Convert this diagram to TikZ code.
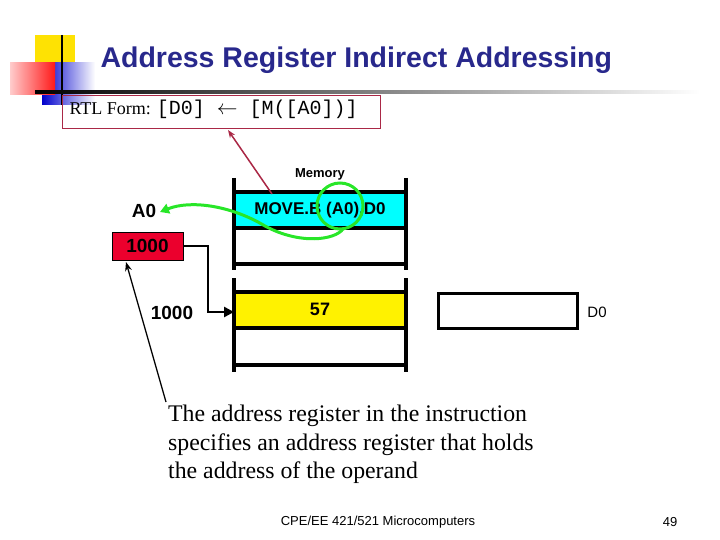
\documentclass[tikz,border=0pt]{standalone}
\usepackage{fontspec}
\setmainfont{Liberation Serif}
\setsansfont{Liberation Sans}
\setmonofont{Liberation Mono}
\usetikzlibrary{arrows.meta,shadings}
\definecolor{titleblue}{RGB}{40,40,140}
\definecolor{rtlred}{RGB}{170,40,70}
\definecolor{cyanc}{RGB}{0,255,255}
\definecolor{redc}{RGB}{235,0,45}
\definecolor{greenc}{RGB}{40,230,40}
\tikzset{memline/.style={line width=3.6pt}, lbl/.style={font=\fontsize{17}{20}\sffamily\bfseries}}
\begin{document}
\begin{tikzpicture}[x=1pt,y=-1pt]
\useasboundingbox (0,0) rectangle (720,540);
% logo
\fill[yellow!85!orange] (35,35) rectangle (75,75);
\shade[left color=blue!80!black, right color=white] (42,63) rectangle (95,105);
\shade[left color=red!20, right color=red!90] (10,63) rectangle (55,95);
\draw[line width=2pt] (62,35) -- (62,105);
\shade[left color=black, right color=white] (35,90.5) rectangle (700,94);
\node[text=titleblue, font=\fontsize{28.5}{34}\sffamily\bfseries, anchor=west] (title) at (97,60) {Address Register Indirect Addressing};
% RTL
\node[draw=rtlred, minimum width=318, minimum height=33, anchor=north west, inner sep=0] (rtl) at (62,95) {};
\node[anchor=west, font=\fontsize{18}{20}\selectfont] (rtlt) at (66,109) {RTL Form: \texttt{\fontsize{20}{20}\selectfont[D0] $\leftarrow$ [M([A0])]}};
% memory
\node[font=\fontsize{13}{15}\sffamily\bfseries] (mem) at (320,174) {Memory};
\fill[cyanc] (234,192) rectangle (406,228);
\fill[yellow] (234,292) rectangle (406,328);
\draw[memline] (234,178) -- (234,270) (406,178) -- (406,270);
\draw[memline] (234,192) -- (406,192) (234,228) -- (406,228) (234,264) -- (406,264);
\draw[memline] (234,278) -- (234,372) (406,278) -- (406,372);
\draw[memline] (234,292) -- (406,292) (234,328) -- (406,328) (234,365) -- (406,365);
\node[lbl] (instr) at (320,210) {MOVE.B (A0),D0};
\node[lbl, font=\fontsize{18}{20}\sffamily\bfseries] (v57) at (320,309) {57};
\node[draw, line width=3pt, minimum width=139, minimum height=35, inner sep=0] (d0) at (507.5,310.5) {};
\node[font=\fontsize{15}{17}\sffamily] (d0l) at (597,312) {D0};
% A0 register
\node[lbl, font=\fontsize{19}{20}\sffamily\bfseries] (a0) at (144,211) {A0};
\node[draw, fill=redc, minimum width=71, minimum height=28, inner sep=0, lbl, font=\fontsize{19}{20}\sffamily\bfseries] (reg) at (147.5,246) {1000};
\node[lbl, font=\fontsize{19}{20}\sffamily\bfseries] (addr) at (172,313) {1000};
\coordinate (yl) at (234,312);
\draw[line width=2.6pt, -{Triangle[length=10pt,width=10pt]}] (reg.east) -- (208,246) -- (208,312) -- (yl);
% green
\draw[greenc, line width=3pt] (340,206) circle (23);
\coordinate (gs) at (343,229);
\draw[greenc, line width=3pt, -{Triangle[length=9pt,width=10pt]}] (gs) .. controls (335,240) and (300,245) .. (265,226) .. controls (230,205) and (190,200) .. (160,212);
% red arrow
\coordinate (rs) at (272,194);
\draw[rtlred, line width=1.5pt, -{Stealth[length=8pt]}] (rs) -- (228,130);
% black arrow
\coordinate (bs) at (166,402);
\draw[line width=1.3pt, -{Stealth[length=9pt]}] (bs) -- (126,262);
\node[anchor=north west, align=left, font=\fontsize{23.8}{28.5}\selectfont, inner sep=0] (body) at (168,405) {The address register in the instruction\\specifies an address register that holds\\the address of the operand};
\node[font=\fontsize{13}{15}\sffamily] (foot) at (378,522) {CPE/EE 421/521 Microcomputers};
\node[font=\fontsize{13}{15}\sffamily] (pg) at (670,522) {49};
\end{tikzpicture}
\end{document}
